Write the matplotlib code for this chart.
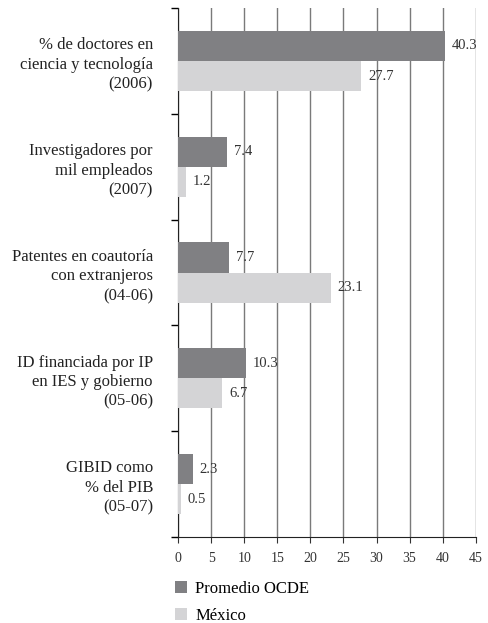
import matplotlib.pyplot as plt
import numpy as np

categories = [
    "% de doctores en\nciencia y tecnología\n(2006)",
    "Investigadores por\nmil empleados\n(2007)",
    "Patentes en coautoría\ncon extranjeros\n(04-06)",
    "ID financiada por IP\nen IES y gobierno\n(05-06)",
    "GIBID como\n% del PIB\n(05-07)",
]
ocde = [40.3, 7.4, 7.7, 10.3, 2.3]
mexico = [27.7, 1.2, 23.1, 6.7, 0.5]
series_names = ["Promedio OCDE", "México"]

plt.rcParams['font.family'] = ['Liberation Serif', 'DejaVu Serif']

fig = plt.figure(figsize=(4.89, 6.23), dpi=100)
ax = fig.add_axes([0.364, 0.138, 0.609, 0.849])

y = np.arange(len(categories))
h = 0.285
dark = "#808083"
light = "#d4d4d6"
b1 = ax.barh(y - h / 2, ocde, height=h, color=dark, label=series_names[0], zorder=3)
b2 = ax.barh(y + h / 2, mexico, height=h, color=light, label=series_names[1], zorder=3)

for bars, vals in ((b1, ocde), (b2, mexico)):
    for bar, v in zip(bars, vals):
        ax.text(bar.get_width() + 1.0, bar.get_y() + bar.get_height() / 2, f"{v}",
                va="center", ha="left", fontsize=10.5, color="#333333", zorder=4)

ax.set_xlim(0, 45)
ax.set_ylim(len(categories) - 0.5, -0.5)
ax.set_xticks(range(0, 50, 5))
ax.tick_params(axis="x", labelsize=10, length=4, colors="#333333", pad=7)
ax.xaxis.grid(True, color="#7a7a7a", linewidth=1.0, zorder=0)

ax.set_yticks(np.arange(-0.5, len(categories), 1.0))
ax.set_yticklabels([])
ax.set_yticks(y, minor=True)
ax.set_yticklabels(categories, minor=True, fontsize=12, ha="right",
                   color="#222222", linespacing=1.3)
ax.tick_params(axis="y", which="major", length=5, width=1)
ax.tick_params(axis="y", which="minor", length=0, pad=18)

for s in ("top", "right"):
    ax.spines[s].set_visible(False)
for s in ("left", "bottom"):
    ax.spines[s].set_color("#222222")

fig.legend(handles=[b1, b2], loc="upper left", bbox_to_anchor=(0.345, 0.078),
           frameon=False, fontsize=12, handlelength=0.7, handleheight=0.7,
           handletextpad=0.5, labelspacing=0.65, borderaxespad=0.2, borderpad=0.2)

fig.savefig("out.png", dpi=100)
